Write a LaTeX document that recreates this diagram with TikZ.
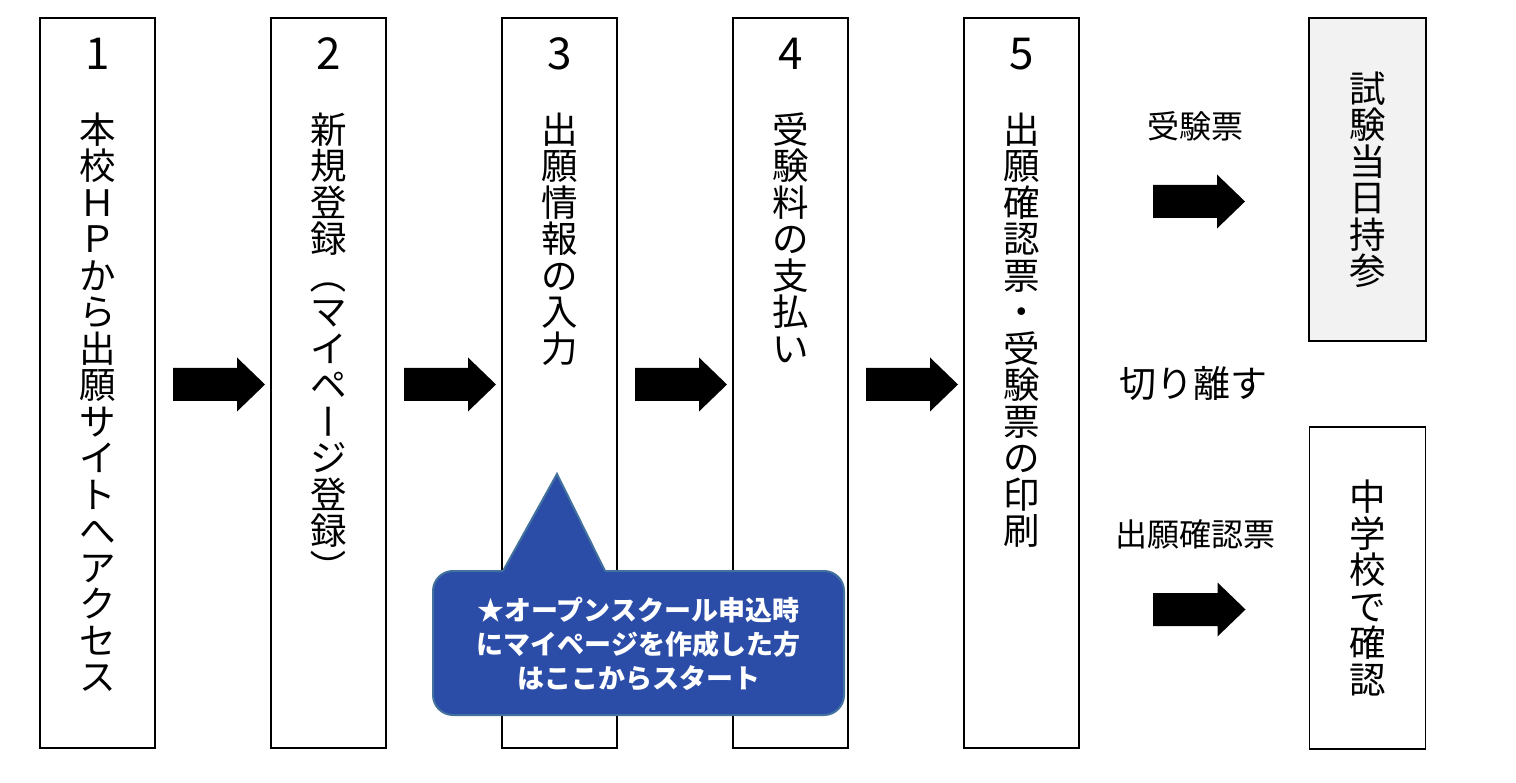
\documentclass[tikz,border=0pt]{standalone}
\usepackage{fontspec}
\usepackage{graphicx}
\setmainfont{Noto Sans CJK JP}
\usetikzlibrary{calc}
\definecolor{callfill}{HTML}{2B4DA8}
\definecolor{callline}{HTML}{41719C}
\definecolor{boxgrey}{HTML}{F2F2F2}

\newcommand\jpcell[1]{\hbox to 1em{\vrule height .88em depth .12em width 0pt\hss#1\hss}}
\newcommand\rotcell[1]{\rotatebox[origin=c]{-90}{\jpcell{#1}}}
\ExplSyntaxOn
\NewDocumentCommand\vstack{m}{\vbox{\offinterlineskip \tl_map_inline:nn {#1}{\jpcell{##1}}}}
\ExplSyntaxOff

\newcommand\flowarrow[2]{%
  \fill[flowfill] ([yshift=16.5pt]#1) -- ([xshift=-28pt,yshift=16.5pt]#2) -- ([xshift=-28pt,yshift=27pt]#2) -- (#2)
     -- ([xshift=-28pt,yshift=-27pt]#2) -- ([xshift=-28pt,yshift=-16.5pt]#2) -- ([yshift=-16.5pt]#1) -- cycle;}

\tikzset{
  stepbox/.style={draw, line width=1.2pt, minimum width=115pt, minimum height=730pt, inner sep=0pt, outer sep=0pt},
  endbox/.style={draw, line width=1.2pt, minimum width=116pt, minimum height=322pt, inner sep=0pt, outer sep=0pt},
  vtxt/.style={font=\fontsize{36.5}{36.5}\selectfont, inner sep=0pt, outer sep=0pt},
  numtxt/.style={font=\fontsize{44}{44}\selectfont, inner sep=0pt, anchor=base},
  sidetxt/.style={font=\fontsize{32}{32}\selectfont, inner sep=0pt},
  flowfill/.style={fill=black},
  calloutshape/.style={fill=callfill, draw=callline, line width=2pt},
  callouttxt/.style={text=white, font=\fontsize{27}{34}\selectfont\bfseries, align=center, inner sep=0pt}
}

\begin{document}
\begin{tikzpicture}[x=1pt,y=-1pt]
\fill[white] (0,0) rectangle (1516,783);
\useasboundingbox (0,0) rectangle (1516,783);

% step boxes
\node[stepbox] (b1) at (97.5,383) {};
\node[stepbox] (b2) at (328.5,383) {};
\node[stepbox] (b3) at (559.5,383) {};
\node[stepbox] (b4) at (790.5,383) {};
\node[stepbox] (b5) at (1021.5,383) {};

% numbers
\node[numtxt] (n1) at (97.5,70) {1};
\node[numtxt] (n2) at (328.5,70) {2};
\node[numtxt] (n3) at (559.5,70) {3};
\node[numtxt] (n4) at (790.5,70) {4};
\node[numtxt] (n5) at (1021.5,70) {5};

% vertical texts
\node[vtxt,anchor=north] (t1) at (97.5,111) {\vstack{本校ＨＰから出願サイトへアクセス}};
\node[vtxt,anchor=north] (t2) at (328.5,111) {\vstack{新規登録{\rotcell{（}}マイペ{\rotcell{ー}}ジ登録{\rotcell{）}}}};
\node[vtxt,anchor=north] (t3) at (559.5,111) {\vstack{出願情報の入力}};
\node[vtxt,anchor=north] (t4) at (790.5,111) {\vstack{受験料の支払い}};
\node[vtxt,anchor=north] (t5) at (1021.5,111) {\vstack{出願確認票・受験票の印刷}};

% end boxes
\node[endbox,fill=boxgrey,minimum height=323pt,minimum width=117pt] (e1) at (1367.5,179.5) {};
\node[vtxt] (et1) at (e1.center) {\vstack{試験当日持参}};
\node[endbox] (e2) at (1367.5,588) {};
\node[vtxt] (et2) at (e2.center) {\vstack{中学校で確認}};

% side labels
\node[sidetxt] (l1) at (1195,126) {受験票};
\node[sidetxt,font=\fontsize{37}{37}\selectfont] (l2) at (1193,384) {切り離す};
\node[sidetxt] (l3) at (1195,534) {出願確認票};

% flow arrows
\coordinate (a1s) at ($(b1.east)+(18,1.5)$);
\coordinate (a1e) at ($(b2.west)+(-6,1.5)$);
\coordinate (a2s) at ($(b2.east)+(18,1.5)$);
\coordinate (a2e) at ($(b3.west)+(-6,1.5)$);
\coordinate (a3s) at ($(b3.east)+(18,1.5)$);
\coordinate (a3e) at ($(b4.west)+(-6,1.5)$);
\coordinate (a4s) at ($(b4.east)+(18,1.5)$);
\coordinate (a4e) at ($(b5.west)+(-6,1.5)$);
\coordinate (a5s) at ($(b5.east |- 0,201.5)+(74,0)$);
\coordinate (a5e) at ($(e1.west |- 0,201.5)+(-64,0)$);
\coordinate (a6s) at ($(b5.east |- 0,609.5)+(74,0)$);
\coordinate (a6e) at ($(e2.west |- 0,609.5)+(-64,0)$);
\flowarrow{a1s}{a1e}
\flowarrow{a2s}{a2e}
\flowarrow{a3s}{a3e}
\flowarrow{a4s}{a4e}
\flowarrow{a5s}{a5e}
\flowarrow{a6s}{a6e}

% callout
\filldraw[calloutshape, rounded corners=20pt] (433,571) rectangle (844,715);
\fill[callfill] (502,574) -- (503,571) -- (557,474) -- (605,571) -- (606,574) -- cycle;
\draw[draw=callline, line width=2pt, line join=miter] (503,571) -- (557,474) -- (605,571);
\node[callouttxt] (note) at (638.5,644) {★オープンスクール申込時\\にマイページを作成した方\\はここからスタート};
\end{tikzpicture}
\end{document}
